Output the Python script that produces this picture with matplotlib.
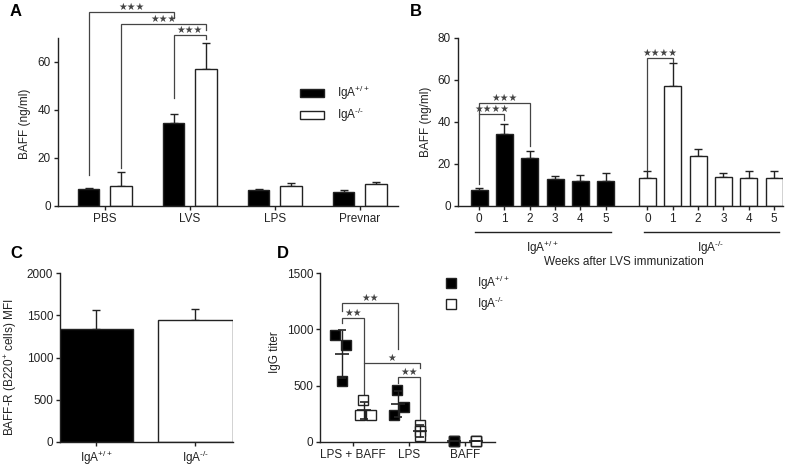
#!/usr/bin/env python3
"""
BAFF levels in IgA+/+ and IgA-/- mice (4-panel figure)
"""

import numpy as np
import matplotlib
matplotlib.use("Agg")
import matplotlib.pyplot as plt
from matplotlib.patches import Patch
from matplotlib.lines import Line2D

plt.rcParams['font.family'] = ['Liberation Sans', 'DejaVu Sans']
plt.rcParams['mathtext.fontset'] = 'custom'
plt.rcParams['mathtext.rm'] = 'Liberation Sans'
plt.rcParams['mathtext.default'] = 'regular'
plt.rcParams['font.size'] = 8.5

INK = '#222222'
FS = 8.5
WT = 'IgA$^{+/+}$'
KO = 'IgA$^{\\text{-/-}}$'

# Panel A: BAFF (ng/ml) per stimulus
a_groups = ['PBS', 'LVS', 'LPS', 'Prevnar']
a_wt = [7.0, 34.5, 6.5, 6.0]
a_wt_err = [0.4, 4.0, 0.6, 0.8]
a_ko = [8.2, 57.0, 8.5, 9.0]
a_ko_err = [5.8, 11.0, 1.0, 1.2]

# Panel B: BAFF (ng/ml) over weeks after LVS immunization
b_weeks = ['0', '1', '2', '3', '4', '5']
b_wt = [7.5, 34.5, 23.0, 13.0, 12.0, 12.0]
b_wt_err = [1.2, 4.5, 3.0, 1.3, 3.0, 3.5]
b_ko = [13.5, 57.0, 24.0, 14.0, 13.5, 13.5]
b_ko_err = [3.0, 11.0, 3.0, 1.5, 3.0, 3.0]

# Panel C: BAFF-R MFI
c_groups = [WT, KO]
c_vals = [1335, 1445]
c_err = [225, 130]

# Panel D: IgG titer, individual mice
d_groups = ['LPS + BAFF', 'LPS', 'BAFF']
d_wt = [[950, 860, 540], [460, 310, 240], [5, 5, 5]]
d_ko = [[370, 240, 240], [153, 94, 50], [5, 5, 5]]
d_wt_mean = [783, 337, 5]
d_wt_sd = [215, 115, 0]
d_ko_mean = [283, 99, 5]
d_ko_sd = [75, 52, 0]


def style(ax):
    for s in ['top', 'right']:
        ax.spines[s].set_visible(False)
    for s in ['left', 'bottom']:
        ax.spines[s].set_color(INK)
        ax.spines[s].set_linewidth(1.0)
    ax.tick_params(direction='out', length=3, width=1.0, color=INK,
                   labelcolor=INK, labelsize=FS, pad=2)


def bracket(ax, x1, x2, y, y1, y2, text):
    ax.plot([x1, x1, x2, x2], [y1, y, y, y2], color='#444444', lw=0.9,
            clip_on=False, solid_joinstyle='miter')
    ax.text((x1 + x2) / 2, y, text, ha='center', va='bottom', fontsize=7,
            color='#444444', family=['DejaVu Sans'])


def upper_err(ax, x, top, err):
    ax.errorbar(x, top, yerr=[np.zeros(len(err)), err], fmt='none',
                ecolor=INK, elinewidth=1.0, capsize=3, capthick=1.0, zorder=1)


fig = plt.figure(figsize=(8, 4.67), dpi=100)
W, H = 800, 467


def rect(x0, y0, x1, y1):
    return [x0 / W, 1 - y1 / H, (x1 - x0) / W, (y1 - y0) / H]


# ---------------- A ----------------
ax = fig.add_axes(rect(58, 38, 398, 206))
style(ax)
xa = np.arange(len(a_groups))
off, bw = 0.19, 0.25
upper_err(ax, xa - off, a_wt, a_wt_err)
upper_err(ax, xa + off, a_ko, a_ko_err)
ax.bar(xa - off, a_wt, bw, color='black', edgecolor=INK, lw=1, zorder=2)
ax.bar(xa + off, a_ko, bw, color='white', edgecolor=INK, lw=1, zorder=2)
ax.set_xlim(-0.553, 3.45)
ax.set_ylim(0, 70)
ax.set_yticks([0, 20, 40, 60])
ax.set_xticks(xa)
ax.set_xticklabels(a_groups)
ax.set_ylabel('BAFF (ng/ml)', color=INK, fontsize=FS)
ax.yaxis.set_label_coords(-0.079, 0.49)
bracket(ax, 0 - off, 1 - off, 80.8, 13.0, 78.3, '★★★')
bracket(ax, 0 + off, 1 + off, 75.8, 16.0, 73.3, '★★★')
bracket(ax, 1 - off, 1 + off, 71.3, 45.0, 69.6, '★★★')
ax.legend(handles=[Patch(facecolor='black', edgecolor=INK, label=WT),
                   Patch(facecolor='white', edgecolor=INK, label=KO)],
          loc='upper left', bbox_to_anchor=(300 / W, 1 - 84 / H),
          bbox_transform=fig.transFigure, frameon=False, fontsize=FS,
          handlelength=2.0, handleheight=0.7, handletextpad=1.1,
          labelspacing=0.3, borderpad=0, borderaxespad=0, labelcolor=INK)

# ---------------- B ----------------
ax = fig.add_axes(rect(458, 38, 783, 206))
style(ax)
xb_wt = np.arange(len(b_weeks))
xb_ko = xb_wt + 6.65
upper_err(ax, xb_wt, b_wt, b_wt_err)
upper_err(ax, xb_ko, b_ko, b_ko_err)
ax.bar(xb_wt, b_wt, 0.67, color='black', edgecolor=INK, lw=1, zorder=2)
ax.bar(xb_ko, b_ko, 0.67, color='white', edgecolor=INK, lw=1, zorder=2)
ax.set_xlim(-0.83, 12.0)
ax.set_ylim(0, 80)
ax.set_yticks([0, 20, 40, 60, 80])
ax.set_xticks(np.concatenate([xb_wt, xb_ko]))
ax.set_xticklabels(b_weeks + b_weeks)
ax.set_ylabel('BAFF (ng/ml)', color=INK, fontsize=FS)
ax.yaxis.set_label_coords(-0.08, 0.5)
tr = ax.get_xaxis_transform()
for xs, lab in [(xb_wt, WT), (xb_ko, KO)]:
    ax.plot([xs[0] - 0.15, xs[-1] + 0.2], [-0.155, -0.155], color=INK,
            lw=1, transform=tr, clip_on=False)
    ax.text(xs.mean(), -0.195, lab, transform=tr, ha='center', va='top',
            fontsize=FS, color=INK)
ax.text(0.51, -0.295, 'Weeks after LVS immunization', transform=ax.transAxes,
        ha='center', va='top', fontsize=FS, color=INK)
bracket(ax, xb_wt[0], xb_wt[1], 44.0, 10.5, 41.0, '★★★★')
bracket(ax, xb_wt[0], xb_wt[2], 49.0, 44.0, 28.5, '★★★')
bracket(ax, xb_ko[0], xb_ko[1], 70.5, 17.0, 68.5, '★★★★')

# ---------------- C ----------------
ax = fig.add_axes(rect(60, 273, 233, 442))
style(ax)
xc = np.arange(len(c_groups))
upper_err(ax, xc, c_vals, c_err)
ax.bar(xc, c_vals, 0.75, color=['black', 'white'], edgecolor=INK, lw=1,
       zorder=2)
ax.set_xlim(-0.364, 1.38)
ax.set_ylim(0, 2000)
ax.set_yticks([0, 500, 1000, 1500, 2000])
ax.set_xticks(xc)
ax.set_xticklabels(c_groups)
ax.set_ylabel('BAFF-R (B220$^{+}$ cells) MFI', color=INK, fontsize=FS)
ax.yaxis.set_label_coords(-0.237, 0.44)

# ---------------- D ----------------
ax = fig.add_axes(rect(320, 273, 495, 442))
style(ax)
xd = np.arange(len(d_groups))
jit_wt = [[-0.13, 0.08, 0.0], [-0.02, 0.12, -0.06], [0.0, 0.0, 0.0]]
jit_ko = [[-0.02, -0.07, 0.12], [0.0, 0.0, 0.0], [0.0, 0.0, 0.0]]
for i in range(len(d_groups)):
    ax.plot(xd[i] - 0.2 + np.array(jit_wt[i]), d_wt[i], 's', ms=6.5,
            mfc='black', mec=INK, mew=1, ls='none', clip_on=False, zorder=3)
    ax.plot(xd[i] + 0.2 + np.array(jit_ko[i]), d_ko[i], 's', ms=6.5,
            mfc='white', mec=INK, mew=1, ls='none', clip_on=False, zorder=3)
ax.errorbar(xd - 0.2, d_wt_mean, yerr=d_wt_sd, fmt='_', ms=10, mew=1.2,
            color=INK, elinewidth=1.0, capsize=3, capthick=1.0, zorder=4)
ax.errorbar(xd + 0.2, d_ko_mean, yerr=d_ko_sd, fmt='_', ms=10, mew=1.2,
            color=INK, elinewidth=1.0, capsize=3, capthick=1.0, zorder=4)
ax.set_xlim(-0.59, 2.54)
ax.set_ylim(0, 1500)
ax.set_yticks([0, 500, 1000, 1500])
ax.set_xticks(xd)
ax.set_xticklabels(d_groups)
ax.set_ylabel('IgG titer', color=INK, fontsize=FS)
ax.yaxis.set_label_coords(-0.223, 0.53)
bracket(ax, -0.2, 0.8, 1234, 1163, 823, '★★')
bracket(ax, -0.2, 0.2, 1097, 1053, 705, '★★')
bracket(ax, 0.2, 1.2, 699, 404, 655, '★')
bracket(ax, 0.8, 1.2, 575, 522, 183, '★★')
ax.legend(handles=[Line2D([], [], marker='s', ls='none', ms=6.5, mfc='black',
                          mec=INK, label=WT),
                   Line2D([], [], marker='s', ls='none', ms=6.5, mfc='white',
                          mec=INK, label=KO)],
          loc='upper left', bbox_to_anchor=(445 / W, 1 - 274 / H),
          bbox_transform=fig.transFigure, frameon=False, fontsize=FS,
          handlelength=1.0, handletextpad=1.7, labelspacing=0.25,
          borderpad=0, borderaxespad=0, labelcolor=INK)

# panel letters
for lab, x, y in [('A', 10, 12), ('B', 410, 12), ('C', 10, 253), ('D', 277, 253)]:
    fig.text(x / W, 1 - y / H, lab, fontsize=12, fontweight='bold',
             ha='left', va='center', color='black')

plt.savefig('out.png', dpi=100)
